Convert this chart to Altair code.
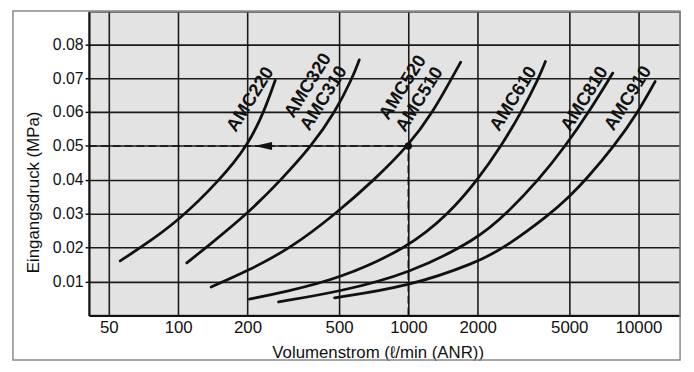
import altair as alt
import pandas as pd

# ---- axis ticks ----
x_ticks = [50, 100, 200, 500, 1000, 2000, 5000, 10000]
y_ticks = [0.01, 0.02, 0.03, 0.04, 0.05, 0.06, 0.07, 0.08]

# ---- curves (flow l/min ANR, inlet pressure MPa) ----
amc220_flow = [56, 68.6, 100, 152, 200, 236, 264]
amc220_p = [0.0161, 0.020, 0.0278, 0.040, 0.050, 0.060, 0.0694]

amc320_flow = [109, 132, 200, 280, 380, 481, 571, 612]
amc320_p = [0.0155, 0.020, 0.030, 0.040, 0.050, 0.060, 0.070, 0.0754]

amc520_flow = [139, 200, 311, 484, 711, 1000, 1279, 1544, 1687]
amc520_p = [0.0084, 0.0131, 0.020, 0.030, 0.040, 0.050, 0.060, 0.070, 0.0747]

amc610_flow = [204, 292, 500, 1000, 1499, 2000, 2531, 3099, 3685, 3940]
amc610_p = [0.0048, 0.0070, 0.0108, 0.020, 0.030, 0.040, 0.050, 0.060, 0.070, 0.0749]

amc810_flow = [273, 500, 1000, 2000, 2666, 3685, 4811, 6083, 7730]
amc810_p = [0.0040, 0.0070, 0.0122, 0.0225, 0.030, 0.040, 0.050, 0.060, 0.0715]

amc910_flow = [478, 1000, 2000, 2620, 4150, 5000, 5894, 7852, 10000, 11800]
amc910_p = [0.0052, 0.0085, 0.0157, 0.020, 0.030, 0.035, 0.040, 0.050, 0.0602, 0.069]

curves = {
    "AMC220": (amc220_flow, amc220_p),
    "AMC320/310": (amc320_flow, amc320_p),
    "AMC520/510": (amc520_flow, amc520_p),
    "AMC610": (amc610_flow, amc610_p),
    "AMC810": (amc810_flow, amc810_p),
    "AMC910": (amc910_flow, amc910_p),
}

# ---- curve labels ----
label_text = ["AMC220", "AMC320", "AMC310", "AMC520", "AMC510", "AMC610", "AMC810", "AMC910"]
label_flow = [205, 365, 427, 942, 1114, 2850, 5805, 8970]
label_p = [0.0638, 0.0679, 0.0641, 0.0673, 0.0638, 0.0640, 0.0640, 0.0641]

# ---- reading example: 1000 l/min at 0.05 MPa ----
example_flow = [1000]
example_p = [0.05]
arrow_flow = [234]
arrow_p = [0.05]

x_min, x_max = 41, 15150
y_min, y_max = 0, 0.0895

rows = []
for name, (fl, pr) in curves.items():
    for i, (f, p) in enumerate(zip(fl, pr)):
        rows.append({"model": name, "flow": f, "pressure": p, "i": i})
curve_df = pd.DataFrame(rows)
label_df = pd.DataFrame({"text": label_text, "flow": label_flow, "pressure": label_p})
dot_df = pd.DataFrame({"flow": example_flow, "pressure": example_p})
arrow_df = pd.DataFrame({"flow": arrow_flow, "pressure": arrow_p})
hline_df = pd.DataFrame({"flow": [x_min], "flow2": example_flow, "pressure": example_p})
vline_df = pd.DataFrame({"flow": example_flow, "pressure": [0.0], "pressure2": example_p})

FONT = "Liberation Sans"
INK = "#111111"

xscale = alt.Scale(type="log", domain=[x_min, x_max], nice=False)
yscale = alt.Scale(domain=[y_min, y_max], nice=False, zero=False)

xaxis = alt.Axis(
    values=x_ticks, format="d", grid=True, gridColor="#1a1a1a", gridWidth=1.6,
    domainColor=INK, domainWidth=2, tickSize=0, labelFont=FONT, labelFontSize=17,
    labelColor=INK, labelPadding=4, labelOverlap=False, labelFlush=False,
    title="Volumenstrom  (ℓ/min (ANR))", titleFont=FONT, titleFontSize=17,
    titleFontWeight="normal", titleColor=INK, titleX=292, titleY=38,
    titleBaseline="middle", titleAlign="center",
)
yaxis = alt.Axis(
    values=y_ticks, format=".2f", grid=True, gridColor="#1a1a1a", gridWidth=1.6,
    domainColor=INK, domainWidth=2, tickSize=4, tickColor=INK, tickWidth=1.5,
    labelFont=FONT, labelFontSize=16, labelColor=INK, labelPadding=2,
    labelOverlap=False, labelFlush=False,
    title="Eingangsdruck (MPa)", titleFont=FONT, titleFontSize=17,
    titleFontWeight="normal", titleColor=INK, titleX=-56, titleY=182,
    titleAngle=270, titleBaseline="middle", titleAlign="center",
)

X = alt.X("flow:Q", scale=xscale, axis=xaxis)
Y = alt.Y("pressure:Q", scale=yscale, axis=yaxis)

frame = alt.Chart(dot_df).mark_rect(
    fillOpacity=0, stroke="#8a8a8a", strokeWidth=1.5
).encode(
    x=alt.value(-77), x2=alt.value(598), y=alt.value(-1), y2=alt.value(352)
)

lines = alt.Chart(curve_df).mark_line(
    color=INK, strokeWidth=2.8, interpolate="basis", strokeCap="round"
).encode(x=X, y=Y, detail="model:N", order="i:Q")

hline = alt.Chart(hline_df).mark_rule(
    color=INK, strokeWidth=1.6, strokeDash=[8, 4]
).encode(x=X, x2="flow2:Q", y=Y)

vline = alt.Chart(vline_df).mark_rule(
    color=INK, strokeWidth=1.6, strokeDash=[8, 4]
).encode(x=X, y=Y, y2="pressure2:Q")

dot = alt.Chart(dot_df).mark_point(
    filled=True, color=INK, size=55, opacity=1
).encode(x=X, y=Y)

arrow = alt.Chart(arrow_df).mark_point(
    filled=True, color=INK, size=324, opacity=1,
    shape="M-1,0L1,-0.45L1,0.45Z"
).encode(x=X, y=Y)

labels = alt.Chart(label_df).mark_text(
    angle=302, font=FONT, fontSize=18.5, fontWeight="bold",
    align="center", baseline="middle", color=INK
).encode(x=X, y=Y, text="text:N")

chart = alt.layer(frame, hline, vline, lines, dot, arrow, labels).properties(
    width=598, height=307,
    autosize=alt.AutoSizeParams(type="none"),
    padding={"left": 82, "top": 2, "right": 6, "bottom": 47},
    background="white",
).configure_view(
    fill="#e3e3e3", stroke="#555555", strokeWidth=1.5
)

chart.save("out.html", embed_options={"renderer": "svg", "actions": False})
